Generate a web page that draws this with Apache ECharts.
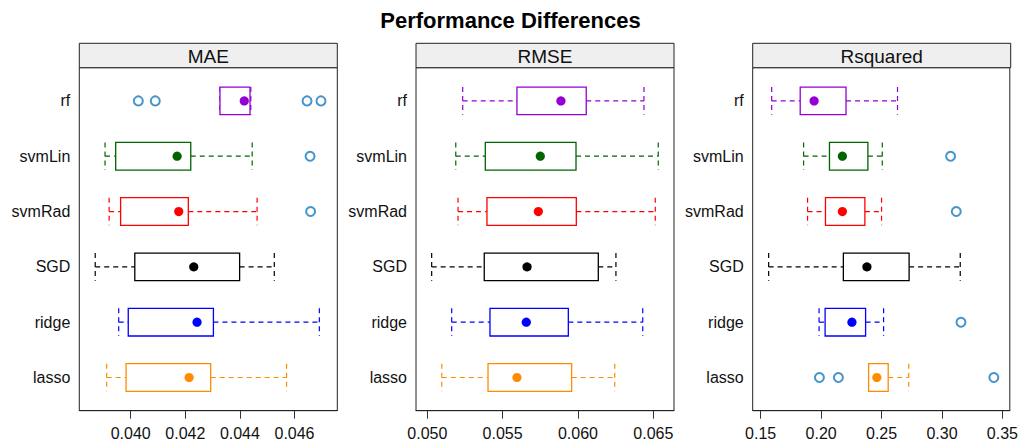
<!DOCTYPE html>
<html>
<head>
<meta charset="utf-8">
<script src="https://cdn.jsdelivr.net/npm/echarts@6/dist/echarts.min.js"></script>
<style>
  html, body { margin: 0; padding: 0; background: #fff; }
  #chart { width: 1021px; height: 447px; }
</style>
</head>
<body>
<div id="chart"></div>
<script>
// Models, listed top to bottom
const categories = ['rf', 'svmLin', 'svmRad', 'SGD', 'ridge', 'lasso'];
const modelColors = ['#9400d3', '#006400', '#ff0000', '#000000', '#0000ff', '#ff8c00'];

// Per-model resampling summaries: [lower whisker, Q1, median, Q3, upper whisker]
const maeStats = [
  [0.04327, 0.04327, 0.04416, 0.04437, 0.04440],
  [0.03906, 0.03945, 0.04170, 0.04220, 0.04445],
  [0.03921, 0.03963, 0.04176, 0.04211, 0.04463],
  [0.03870, 0.04015, 0.04231, 0.04399, 0.04526],
  [0.03956, 0.03991, 0.04243, 0.04303, 0.04691],
  [0.03912, 0.03983, 0.04214, 0.04293, 0.04571]
];
const rmseStats = [
  [0.05235, 0.05595, 0.05887, 0.06055, 0.06438],
  [0.05189, 0.05385, 0.05750, 0.05987, 0.06533],
  [0.05204, 0.05396, 0.05737, 0.05989, 0.06513],
  [0.05029, 0.05378, 0.05662, 0.06135, 0.06252],
  [0.05162, 0.05416, 0.05657, 0.05936, 0.06430],
  [0.05096, 0.05403, 0.05595, 0.05958, 0.06244]
];
const rsqStats = [
  [0.1591, 0.1827, 0.1942, 0.2206, 0.2632],
  [0.1855, 0.2069, 0.2176, 0.2387, 0.2506],
  [0.1888, 0.2036, 0.2176, 0.2362, 0.2500],
  [0.1566, 0.2184, 0.2379, 0.2728, 0.3151],
  [0.1983, 0.2033, 0.2255, 0.2368, 0.2517],
  [0.2393, 0.2393, 0.2461, 0.2555, 0.2725]
];

// Outlying resamples: [value, model index]
const maeOutliers = [
  [0.04028, 0], [0.04090, 0], [0.04646, 0], [0.04697, 0],
  [0.04657, 1], [0.04659, 2]
];
const rmseOutliers = [];
const rsqOutliers = [
  [0.3071, 1], [0.3118, 2], [0.3157, 4],
  [0.1986, 5], [0.2143, 5], [0.3429, 5]
];

// Axis tick positions and ranges
const maeTicks = [0.040, 0.042, 0.044, 0.046];
const rmseTicks = [0.050, 0.055, 0.060, 0.065];
const rsqTicks = [0.15, 0.20, 0.25, 0.30, 0.35];
const maeRange = [0.038117, 0.047568];
const rmseRange = [0.04925, 0.066374];
const rsqRange = [0.1434, 0.3561];

const panelTitles = ['MAE', 'RMSE', 'Rsquared'];
const outlierColor = '#1679c0';
const FONT = '"Liberation Sans", Arial, Helvetica, sans-serif';

const panels = [
  { left: 79.3, stats: maeStats, outliers: maeOutliers, ticks: maeTicks, range: maeRange, digits: 3 },
  { left: 416, stats: rmseStats, outliers: rmseOutliers, ticks: rmseTicks, range: rmseRange, digits: 3 },
  { left: 752.7, stats: rsqStats, outliers: rsqOutliers, ticks: rsqTicks, range: rsqRange, digits: 2 }
];
const PLOT_W = 258, PLOT_TOP = 67.7, PLOT_H = 343, STRIP_TOP = 43.3;

// Box-and-whisker glyph: dashed whiskers with staples, open box, filled median dot
function renderBox(params, api) {
  const idx = api.value(0);
  const lo = api.value(1), q1 = api.value(2), med = api.value(3), q3 = api.value(4), hi = api.value(5);
  const color = modelColors[idx];
  const pLo = api.coord([lo, idx]);
  const pQ1 = api.coord([q1, idx]);
  const pMed = api.coord([med, idx]);
  const pQ3 = api.coord([q3, idx]);
  const pHi = api.coord([hi, idx]);
  const half = Math.abs(api.size([0, 1])[1]) * 0.25;
  const y = pMed[1];
  const dash = { stroke: color, lineWidth: 1.2, lineDash: [5, 4] };
  return {
    type: 'group',
    children: [
      { type: 'line', shape: { x1: pLo[0], y1: y, x2: pQ1[0], y2: y }, style: dash },
      { type: 'line', shape: { x1: pQ3[0], y1: y, x2: pHi[0], y2: y }, style: dash },
      { type: 'line', shape: { x1: pLo[0], y1: y - half, x2: pLo[0], y2: y + half }, style: dash },
      { type: 'line', shape: { x1: pHi[0], y1: y - half, x2: pHi[0], y2: y + half }, style: dash },
      { type: 'rect', shape: { x: pQ1[0], y: y - half, width: pQ3[0] - pQ1[0], height: 2 * half },
        style: { fill: '#fff', stroke: color, lineWidth: 1.3 } },
      { type: 'circle', shape: { cx: pMed[0], cy: y, r: 4.6 }, style: { fill: color } }
    ]
  };
}

const grids = [], xAxes = [], yAxes = [], series = [], graphics = [];
panels.forEach((p, i) => {
  grids.push({ left: p.left, top: PLOT_TOP, width: PLOT_W, height: PLOT_H, show: true,
    borderColor: '#222', borderWidth: 1, backgroundColor: '#fff' });
  xAxes.push({
    type: 'value', gridIndex: i, min: p.range[0], max: p.range[1], position: 'bottom',
    axisLine: { show: true, onZero: false, lineStyle: { color: '#222', width: 1 } },
    splitLine: { show: false },
    axisTick: { show: true, length: 8, inside: false, customValues: p.ticks, lineStyle: { color: '#333', width: 1 } },
    axisLabel: { show: true, customValues: p.ticks, margin: 15, color: '#111', fontSize: 16, fontFamily: FONT,
      formatter: v => Number(v).toFixed(p.digits) }
  });
  yAxes.push({
    type: 'value', gridIndex: i, inverse: true, min: -0.6, max: 5.6,
    axisLine: { show: false, onZero: false }, axisTick: { show: false }, splitLine: { show: false },
    axisLabel: { show: true, customValues: categories.map((c, k) => k), margin: 9,
      color: '#111', fontSize: 16, fontFamily: FONT, formatter: v => categories[Math.round(v)] }
  });
  series.push({
    type: 'custom', xAxisIndex: i, yAxisIndex: i, renderItem: renderBox, clip: false,
    data: p.stats.map((s, k) => [k].concat(s)),
    encode: { x: [1, 2, 3, 4, 5], y: 0 }, silent: true
  });
  series.push({
    type: 'scatter', xAxisIndex: i, yAxisIndex: i, symbol: 'emptyCircle', symbolSize: 9,
    itemStyle: { color: outlierColor, borderColor: outlierColor, borderWidth: 1.5 },
    data: p.outliers, silent: true
  });
  // strip header above each panel
  graphics.push({
    type: 'rect', shape: { x: p.left, y: STRIP_TOP, width: PLOT_W, height: PLOT_TOP - STRIP_TOP },
    style: { fill: '#efefef', stroke: '#222', lineWidth: 1 }, z: 10
  });
  graphics.push({
    type: 'text', x: p.left + PLOT_W / 2, y: (STRIP_TOP + PLOT_TOP) / 2 + 0.5,
    style: { text: panelTitles[i], fill: '#111', font: '19px ' + FONT, textAlign: 'center', textVerticalAlign: 'middle' }, z: 11
  });
});

const chart = echarts.init(document.getElementById('chart'), null, { renderer: 'svg' });
chart.setOption({
  animation: false,
  backgroundColor: '#fff',
  title: {
    text: 'Performance Differences', left: 'center', top: 4,
    textStyle: { fontFamily: FONT, fontWeight: 'bold', fontSize: 22, color: '#000' }
  },
  grid: grids,
  xAxis: xAxes,
  yAxis: yAxes,
  series: series,
  graphic: graphics
});
</script>
</body>
</html>
